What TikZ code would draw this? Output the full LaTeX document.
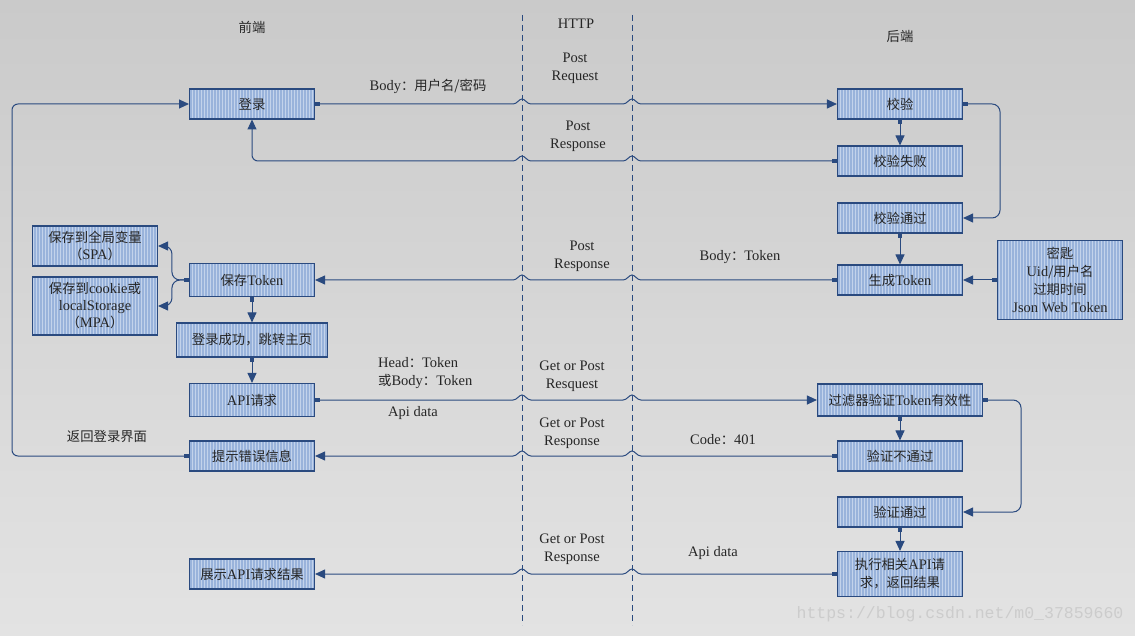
\documentclass[tikz,border=0pt]{standalone}
\usepackage{fontspec}
\setmainfont{Liberation Serif}
\newfontfamily\cjk[Scale=0.92]{Noto Sans CJK SC}
\newfontfamily\wmfont{Liberation Mono}
\usetikzlibrary{arrows.meta,patterns.meta,calc}
\newcommand\zh[1]{{\cjk #1}}
\definecolor{bgtop}{HTML}{CACACA}
\definecolor{bgbot}{HTML}{E3E3E3}
\definecolor{boxblue}{HTML}{99B3DB}
\definecolor{stripe}{HTML}{C3D3EB}
\definecolor{edge}{HTML}{2A4A7F}
\newcommand\hopr[1]{-- ($(#1)+(-9,0)$) .. controls +(4,0) and +(-3,0) .. ++(9,-5) .. controls +(3,0) and +(-4,0) .. ++(9,5)}
\newcommand\hopl[1]{-- ($(#1)+(9,0)$) .. controls +(-4,0) and +(3,0) .. ++(-9,-5) .. controls +(-3,0) and +(4,0) .. ++(-9,5)}

\begin{document}
\begin{tikzpicture}[x=1pt,y=-1pt,
  font=\fontsize{14.5}{18}\selectfont,
  box/.style={draw=edge,line width=1.1pt,preaction={fill=boxblue},
    pattern={Lines[angle=90,distance=3pt,line width=1pt]},pattern color=stripe,
    minimum width=125pt,minimum height=30pt,align=center,inner sep=2pt,text=black!85},
  lbl/.style={align=center,text=black!85,inner sep=1pt},
  conn/.style={draw=edge,line width=1pt,
    {Square[length=4.5pt,width=4.5pt]}-{Triangle[length=10pt,width=9pt]}},
  lane/.style={draw=edge,line width=0.8pt,dash pattern=on 6pt off 4pt}]
\shade[top color=bgtop,bottom color=bgbot] (0,0) rectangle (1135,636);

\coordinate (d1) at (522,15);
\coordinate (d1end) at (522,625);
\coordinate (d2) at (632,15);
\coordinate (d2end) at (632,625);
\coordinate (back) at (12,0);
\draw[lane] (d1) -- (d1end);
\draw[lane] (d2) -- (d2end);

\node[lbl] (front) at (252,27) {\zh{前端}};
\node[lbl] (http) at (576,24) {HTTP};
\node[lbl] (rear) at (900,36) {\zh{后端}};

\node[box] (login) at (252,104) {\zh{登录}};
\node[box] (check) at (900,104) {\zh{校验}};
\node[box] (checkfail) at (900,161) {\zh{校验失败}};
\node[box] (checkok) at (900,218) {\zh{校验通过}};
\node[box] (gentoken) at (900,280) {\zh{生成}Token};
\node[box,minimum height=79pt] (secret) at (1060,280) {\zh{密匙}\\Uid\zh{/用户名}\\\zh{过期时间}\\Json Web Token};
\node[box,minimum height=33pt] (savetoken) at (252,280) {\zh{保存}Token};
\node[box,minimum height=40pt,font=\fontsize{14.5}{17}\selectfont] (spa) at (95,246) {\zh{保存到全局变量}\\\zh{（}SPA\zh{）}};
\node[box,minimum height=58pt,font=\fontsize{14.5}{17}\selectfont] (mpa) at (95,306) {\zh{保存到}cookie\zh{或}\\localStorage\\\zh{（}MPA\zh{）}};
\node[box,minimum width=151pt,minimum height=34pt] (loginok) at (252,340) {\zh{登录成功，跳转主页}};
\node[box,minimum height=33pt] (apireq) at (252,400) {API\zh{请求}};
\node[box,minimum width=165pt,minimum height=32pt] (filter) at (900,400) {\zh{过滤器验证}Token\zh{有效性}};
\node[box] (showerr) at (252,456) {\zh{提示错误信息}};
\node[box] (verifyfail) at (900,456) {\zh{验证不通过}};
\node[box] (verifyok) at (900,512) {\zh{验证通过}};
\node[box,minimum height=45pt] (execapi) at (900,574) {\zh{执行相关}API\zh{请}\\\zh{求，返回结果}};
\node[box] (showres) at (252,574) {\zh{展示}API\zh{请求结果}};

\node[lbl] (body) at (428,86) {Body\zh{：用户名/密码}};
\node[lbl] (postreq) at (575,68) {Post\\Request};
\node[lbl] (postresp) at (578,136) {Post\\Response};
\node[lbl] (postresptoken) at (582,256) {Post\\Response};
\node[lbl] (bodytoken) at (740,257) {Body\zh{：}Token};
\node[lbl,anchor=west,align=left] (headtoken) at (377,373) {Head\zh{：}Token\\\zh{或}Body\zh{：}Token};
\node[lbl] (getreq) at (572,376) {Get or Post\\Resquest};
\node[lbl] (apidata) at (413,413) {Api data};
\node[lbl] (getresp) at (572,433) {Get or Post\\Response};
\node[lbl] (code) at (723,440) {Code\zh{：}401};
\node[lbl] (backlogin) at (107,436) {\zh{返回登录界面}};
\node[lbl] (getresp2) at (572,549) {Get or Post\\Response};
\node[lbl] (apidata2) at (713,553) {Api data};
\node[lbl,text=black!20,font=\wmfont\fontsize{16.5}{18}\selectfont] (mark) at (960,614) {https://blog.csdn.net/m0\_37859660};

\draw[conn] (login.east) \hopr{login.east -| d1} \hopr{login.east -| d2} -- (check.west);
\draw[conn] (check.south) -- (checkfail.north);
\draw[conn] (checkfail.west) \hopl{checkfail.west -| d2} \hopl{checkfail.west -| d1}
  [rounded corners=6pt] -- (checkfail.west -| login.south) -- (login.south);
\draw[conn,rounded corners=8pt] (check.east) -- ++(37,0) |- (checkok.east);
\draw[conn] (checkok.south) -- (gentoken.north);
\draw[conn] (secret.west) -- (gentoken.east);
\draw[conn] (gentoken.west) \hopl{gentoken.west -| d2} \hopl{gentoken.west -| d1} -- (savetoken.east);
\draw[conn,rounded corners=8pt] (savetoken.west) -- ++(-17,0) |- (spa.east);
\draw[conn,rounded corners=8pt] (savetoken.west) -- ++(-17,0) |- (mpa.east);
\draw[conn] (savetoken.south) -- (loginok.north);
\draw[conn] (loginok.south) -- (apireq.north);
\draw[conn] (apireq.east) \hopr{apireq.east -| d1} \hopr{apireq.east -| d2} -- (filter.west);
\draw[conn] (filter.south) -- (verifyfail.north);
\draw[conn,rounded corners=8pt] (filter.east) -- ++(38,0) |- (verifyok.east);
\draw[conn] (verifyfail.west) \hopl{verifyfail.west -| d2} \hopl{verifyfail.west -| d1} -- (showerr.east);
\draw[conn,rounded corners=6pt] (showerr.west) -- (showerr.west -| back) |- (login.west);
\draw[conn] (verifyok.south) -- (execapi.north);
\draw[conn] (execapi.west) \hopl{execapi.west -| d2} \hopl{execapi.west -| d1} -- (showres.east);
\end{tikzpicture}
\end{document}
